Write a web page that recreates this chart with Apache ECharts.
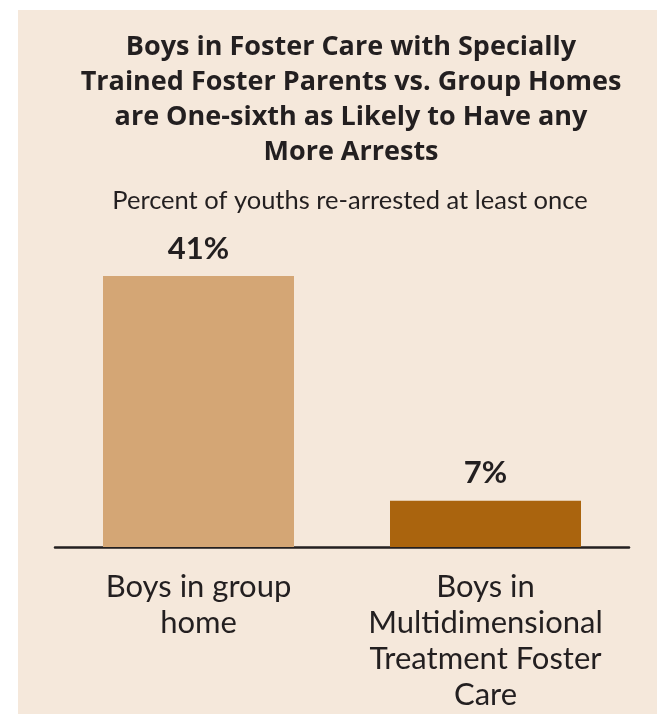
<!DOCTYPE html>
<html>
<head>
<meta charset="utf-8">
<script src="https://cdn.jsdelivr.net/npm/echarts@6/dist/echarts.min.js"></script>
<style>
  html, body { margin: 0; padding: 0; background: #fff; }
  #chart { width: 657px; height: 714px; }
</style>
</head>
<body>
<div id="chart"></div>
<script>
var categories = ["Boys in group\nhome", "Boys in\nMultidimensional\nTreatment Foster\nCare"];
var values = [41, 7];
var barColors = ["#D4A675", "#AA640E"];

var myChart = echarts.init(document.getElementById("chart"));
var textColor = "#231F20";

var option = {
  backgroundColor: "#fff",
  animation: false,
  graphic: [
    {
      type: "rect",
      left: 18,
      top: 10,
      shape: { width: 639, height: 704 },
      style: { fill: "#F5E8DB" },
      z: -10
    }
  ],
  title: [
    {
      text: "Boys in Foster Care with Specially\nTrained Foster Parents vs. Group Homes\nare One-sixth as Likely to Have any\nMore Arrests",
      left: 346,
      top: 25,
      textAlign: "center",
      textStyle: {
        color: textColor,
        fontFamily: "Open Sans",
        fontWeight: "bold",
        fontSize: 27,
        lineHeight: 35
      }
    },
    {
      text: "Percent of youths re-arrested at least once",
      left: 345,
      top: 183,
      textAlign: "center",
      textStyle: {
        color: textColor,
        fontFamily: "Lato",
        fontWeight: "normal",
        fontSize: 25.5
      }
    }
  ],
  grid: { left: 55, right: 28, top: 276, bottom: 167 },
  xAxis: {
    type: "category",
    data: categories,
    axisTick: { show: false },
    axisLine: { show: true, lineStyle: { color: "#231F20", width: 2.5 } },
    axisLabel: {
      color: textColor,
      fontFamily: "Lato",
      fontSize: 31,
      lineHeight: 36,
      margin: 22,
      interval: 0
    }
  },
  yAxis: {
    type: "value",
    min: 0,
    max: 41,
    show: false,
    splitLine: { show: false }
  },
  series: [
    {
      type: "bar",
      barWidth: 191,
      data: values.map(function (v, i) {
        return { value: v, itemStyle: { color: barColors[i] } };
      }),
      label: {
        show: true,
        position: "top",
        distance: 12,
        formatter: "{c}%",
        color: textColor,
        fontFamily: "Lato",
        fontWeight: "bold",
        fontSize: 31
      }
    }
  ]
};

myChart.setOption(option);
</script>
</body>
</html>
